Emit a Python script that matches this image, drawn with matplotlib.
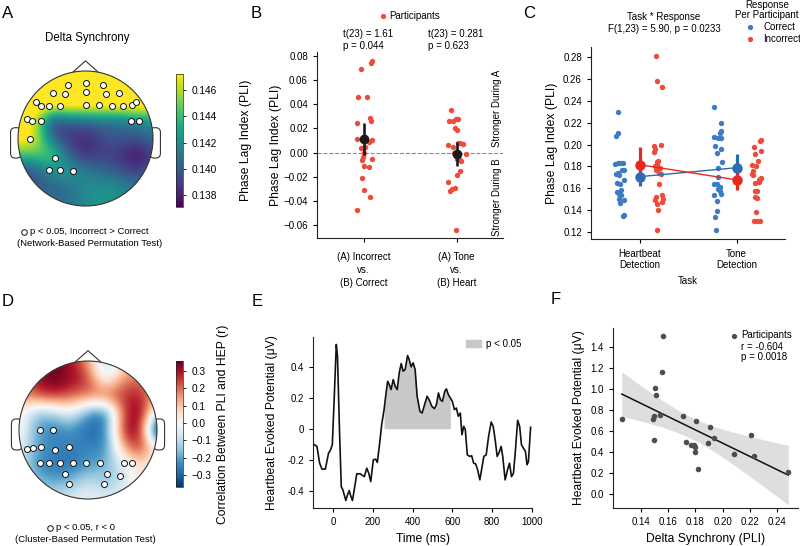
import numpy as np
import matplotlib
matplotlib.use('Agg')
import matplotlib.pyplot as plt
from matplotlib.patches import Circle, Polygon, FancyBboxPatch, Patch
from matplotlib.lines import Line2D

# ---- data ----
# topomap A: Delta synchrony (PLI), 9x9 grid over the head, rows y=1..-1, cols x=-1..1
a_grid = np.array([
    [0.148, 0.148, 0.148, 0.148, 0.148, 0.148, 0.148, 0.148, 0.148],
    [0.148, 0.148, 0.148, 0.148, 0.148, 0.148, 0.148, 0.148, 0.148],
    [0.149, 0.149, 0.149, 0.149, 0.149, 0.149, 0.149, 0.149, 0.149],
    [0.148, 0.147, 0.1382, 0.1400, 0.1400, 0.1405, 0.1405, 0.1415, 0.1420],
    [0.148, 0.1475, 0.1400, 0.1385, 0.1380, 0.1395, 0.1400, 0.1395, 0.1410],
    [0.1445, 0.1445, 0.1455, 0.1400, 0.1382, 0.1390, 0.1385, 0.1370, 0.1390],
    [0.1385, 0.1395, 0.1420, 0.1430, 0.1415, 0.1405, 0.1400, 0.1388, 0.1400],
    [0.1400, 0.1400, 0.1400, 0.1405, 0.1420, 0.1425, 0.1420, 0.1415, 0.1410],
    [0.1410, 0.1415, 0.1410, 0.1410, 0.1420, 0.1425, 0.1420, 0.1410, 0.1410],
])
a_elec_x = [0, -0.254, 0.259, -0.483, -0.303, 0, 0.308, 0.493, -0.736, -0.662, -0.547, -0.383, 0,
            0.199, 0.393, 0.557, 0.682, 0.751, -0.871, -0.786, -0.662, 0.667, 0.796, -0.826, -0.453,
            -0.547, -0.383, -0.189]
a_elec_y = [0.826, 0.791, 0.791, 0.672, 0.657, 0.687, 0.657, 0.672, 0.542, 0.488, 0.483, 0.483, 0.493,
            0.493, 0.483, 0.483, 0.493, 0.542, 0.289, 0.259, 0.259, 0.259, 0.259, 0.0, -0.294,
            -0.468, -0.468, -0.478]
a_ticks = [0.138, 0.140, 0.142, 0.144, 0.146]

# topomap D: correlation between PLI and HEP
d_grid = np.array([
    [0.15, 0.28, 0.35, 0.30, 0.15, -0.15, 0.05, 0.12, 0.10],
    [0.20, 0.30, 0.38, 0.32, 0.26, -0.08, 0.15, 0.20, 0.12],
    [0.12, 0.24, 0.28, 0.22, 0.20, 0.24, 0.26, 0.30, 0.10],
    [0.05, -0.16, -0.14, -0.02, -0.22, -0.30, 0.22, 0.38, -0.10],
    [0.03, -0.20, -0.26, -0.22, -0.30, -0.28, 0.28, 0.36, -0.55],
    [0.00, -0.20, -0.24, -0.26, -0.24, -0.26, 0.12, 0.30, 0.02],
    [-0.08, -0.22, -0.28, -0.28, -0.22, -0.18, -0.06, 0.05, -0.02],
    [-0.08, -0.16, -0.20, -0.16, -0.08, -0.14, -0.10, 0.08, 0.00],
    [-0.05, -0.05, -0.08, -0.05, -0.03, -0.05, -0.05, 0.00, 0.00],
])
d_elec_x = [-0.70, -0.51, -0.88, -0.80, -0.68, -0.48, -0.27, -0.69, -0.57, -0.41, -0.22, -0.03, 0.17,
            0.52, 0.64, -0.33, 0.28, 0.46, -0.28, 0.23]
d_elec_y = [0.0, 0.0, -0.275, -0.256, -0.251, -0.29, -0.24, -0.473, -0.473, -0.473, -0.483, -0.483,
            -0.483, -0.473, -0.483, -0.643, -0.643, -0.662, -0.778, -0.778]
d_ticks = [-0.3, -0.2, -0.1, 0.0, 0.1, 0.2, 0.3]

# panel B: PLI differences per participant
b_labels = ['(A) Incorrect\nvs.\n(B) Correct', '(A) Tone\nvs.\n(B) Heart']
b1_jit = [-0.03, 0.08, 0.09, -0.06, 0.04, 0.07, 0.08, -0.07, -0.07, 0.06, 0.09, -0.03, 0.02, -0.02,
          -0.01, 0.09, 0.00, 0.06, -0.02, 0.00, 0.07, -0.07, 0.00, 0.01]
b1_val = [0.069, 0.074, 0.076, 0.046, 0.046, 0.029, 0.026, 0.0245, 0.011, 0.009, 0.010, 0.004, 0.005,
          -0.006, -0.004, -0.0055, -0.011, -0.012, -0.021, -0.031, -0.037, -0.048, 0.012, 0.0]
b2_jit = [-0.06, -0.08, -0.01, 0.02, -0.02, 0.00, -0.09, -0.04, 0.04, 0.07, 0.10, 0.05, 0.04, 0.04,
          0.00, -0.09, -0.02, -0.05, -0.07, -0.01, 0.02, -0.03, 0.01, -0.04]
b2_val = [0.035, 0.026, 0.028, 0.028, 0.020, 0.019, 0.0066, 0.0044, 0.008, 0.007, -0.001, -0.0066,
          -0.006, -0.015, -0.019, -0.024, -0.029, -0.030, -0.032, -0.064, 0.008, 0.0, -0.005, 0.026]
b_mean = [0.011, -0.001]
b_lo = [-0.0017, -0.011]
b_hi = [0.0245, 0.0085]

# panel C: PLI per task and response
c_tasks = ['Heartbeat\nDetection', 'Tone\nDetection']
c_hb_cor_jit = [-0.22, -0.22, -0.24, -0.25, -0.22, -0.20, -0.17, -0.22, -0.21, -0.16, -0.23, -0.20,
                -0.16, -0.23, -0.21, -0.19, -0.21, -0.16, -0.20, -0.17, -0.16, -0.24, -0.19, -0.18]
c_hb_cor = [0.230, 0.211, 0.208, 0.182, 0.183, 0.183, 0.183, 0.174, 0.172, 0.177, 0.165, 0.164, 0.167,
            0.156, 0.155, 0.154, 0.150, 0.149, 0.146, 0.134, 0.135, 0.173, 0.158, 0.177]
c_hb_inc_jit = [0.17, 0.18, 0.23, 0.15, 0.16, 0.15, 0.22, 0.18, 0.18, 0.16, 0.21, 0.20, 0.22, 0.20,
                0.23, 0.17, 0.16, 0.24, 0.23, 0.18, 0.19, 0.18, 0.17, 0.19]
c_hb_inc = [0.2815, 0.258, 0.2525, 0.199, 0.196, 0.193, 0.200, 0.184, 0.182, 0.180, 0.178, 0.174, 0.173,
            0.164, 0.154, 0.152, 0.149, 0.150, 0.147, 0.145, 0.140, 0.122, 0.177, 0.185]
c_tone_cor_jit = [-0.23, -0.16, -0.17, -0.23, -0.19, -0.16, -0.22, -0.16, -0.20, -0.15, -0.19, -0.19,
                  -0.23, -0.20, -0.17, -0.19, -0.17, -0.23, -0.16, -0.20, -0.20, -0.22, -0.21, -0.16]
c_tone_cor = [0.2347, 0.220, 0.211, 0.2065, 0.206, 0.206, 0.199, 0.196, 0.192, 0.184, 0.178, 0.170,
              0.1635, 0.164, 0.161, 0.159, 0.1575, 0.154, 0.1545, 0.148, 0.139, 0.1335, 0.1215, 0.212]
c_tone_inc_jit = [0.18, 0.25, 0.24, 0.19, 0.25, 0.22, 0.16, 0.16, 0.17, 0.20, 0.24, 0.23, 0.25, 0.19,
                  0.19, 0.21, 0.19, 0.21, 0.20, 0.18, 0.21, 0.24, 0.23, 0.17]
c_tone_inc = [0.1977, 0.204, 0.203, 0.191, 0.194, 0.185, 0.181, 0.173, 0.172, 0.180, 0.168, 0.166,
              0.169, 0.165, 0.1576, 0.1574, 0.152, 0.151, 0.138, 0.130, 0.130, 0.130, 0.167, 0.176]
c_cor_mean = [0.1705, 0.1787]
c_cor_lo = [0.162, 0.166]
c_cor_hi = [0.178, 0.191]
c_inc_mean = [0.1815, 0.1676]
c_inc_lo = [0.1645, 0.158]
c_inc_hi = [0.198, 0.1766]

# panel E: heartbeat evoked potential
e_time = [-93, -80, -67, -55, -38, -22, -13, -3, 7, 17, 23, 33, 42, 50, 65, 73, 82, 88, 98, 107, 120,
          137, 150, 158, 170, 180, 190, 203, 215, 223, 233, 245, 257, 267, 275, 283, 292, 303, 313, 323,
          333, 343, 353, 363, 375, 383, 393, 403, 413, 423, 437, 448, 458, 473, 483, 497, 510, 520, 530,
          540, 550, 562, 570, 580, 590, 600, 610, 620, 630, 640, 648, 657, 665, 675, 687, 697, 707, 717,
          727, 738, 748, 758, 770, 782, 795, 805, 815, 825, 837, 845, 853, 865, 877, 887, 897, 907, 917,
          928, 938, 947, 957, 967, 975, 982, 988, 993]
e_hep = [-0.103, -0.114, -0.22, -0.26, -0.26, -0.157, -0.14, -0.103, 0.209, 0.542, 0.467, -0.006,
         -0.372, -0.394, -0.462, -0.426, -0.398, -0.426, -0.462, -0.394, -0.29, -0.29, -0.301, -0.308,
         -0.254, -0.286, -0.34, -0.2, -0.196, -0.217, -0.114, 0.026, 0.123, 0.23, 0.305, 0.284, 0.252,
         0.316, 0.273, 0.252, 0.359, 0.419, 0.37, 0.381, 0.471, 0.445, 0.398, 0.424, 0.381, 0.209, 0.112,
         0.101, 0.144, 0.209, 0.187, 0.144, 0.129, 0.155, 0.23, 0.187, 0.176, 0.241, 0.256, 0.219, 0.198,
         0.176, 0.123, 0.133, 0.08, 0.101, -0.039, 0.015, -0.006, -0.168, -0.178, -0.174, -0.222, -0.226,
         -0.265, -0.329, -0.254, -0.178, -0.168, -0.049, 0.043, 0.015, -0.071, -0.178, -0.146, -0.114,
         -0.178, -0.329, -0.265, -0.222, -0.308, -0.286, -0.135, 0.054, 0.015, -0.103, -0.125, -0.146,
         -0.232, -0.211, -0.092, 0.009]
e_sig_start = 255
e_sig_end = 597
e_yticks = [-0.4, -0.2, 0.0, 0.2, 0.4]
e_yticklabels = ['-0.4', '-0.2', '0', '0.2', '0.4']

# panel F: delta synchrony vs HEP
f_pli = [0.1263, 0.1562, 0.1557, 0.1508, 0.1515, 0.1489, 0.1499, 0.1501, 0.1542, 0.1710, 0.1732, 0.1766,
         0.1788, 0.1796, 0.1796, 0.1803, 0.1822, 0.1895, 0.1907, 0.1936, 0.2085, 0.2207, 0.2226, 0.2479]
f_hep = [0.714, 1.511, 1.168, 1.010, 0.946, 0.714, 0.749, 0.517, 0.756, 0.749, 0.495, 0.473, 0.473,
         0.454, 0.403, 0.698, 0.241, 0.486, 0.638, 0.533, 0.384, 0.565, 0.368, 0.213]

# ---- style ----
plt.rcParams['font.family'] = ['Liberation Sans', 'DejaVu Sans']
plt.rcParams['font.size'] = 7
plt.rcParams['axes.linewidth'] = 0.8
plt.rcParams['axes.edgecolor'] = '#222222'
plt.rcParams['xtick.major.width'] = 0.8
plt.rcParams['ytick.major.width'] = 0.8
plt.rcParams['xtick.major.size'] = 3
plt.rcParams['ytick.major.size'] = 3
plt.rcParams['xtick.labelsize'] = 7
plt.rcParams['ytick.labelsize'] = 7

red = '#ef4b3b'
blue = '#3d7cc4'
red_m = '#e8281f'
blue_m = '#2a6bb3'
lab_fs = 8.7
dot_s = 15

W, H = 800, 546
fig = plt.figure(figsize=(W / 100, H / 100), dpi=100)


def px_axes(left, top, right, bottom):
    return fig.add_axes([left / W, 1 - bottom / H, (right - left) / W, (bottom - top) / H])


def ftext(x, y, s, **kw):
    fig.text(x / W, 1 - y / H, s, **kw)


def fmarker(x, y, **kw):
    fig.add_artist(Line2D([x / W], [1 - y / H], transform=fig.transFigure, linestyle='none', **kw))


def despine(ax):
    ax.spines['top'].set_visible(False)
    ax.spines['right'].set_visible(False)


def draw_head(cx, cy, r, grid, cmap, vmin, vmax, ex, ey):
    ax = px_axes(cx - 1.3 * r, cy - 1.3 * r, cx + 1.3 * r, cy + 1.3 * r)
    ax.set_xlim(-1.3, 1.3)
    ax.set_ylim(-1.3, 1.3)
    ax.axis('off')
    for s in (-1, 1):
        x0 = 0.95 if s > 0 else -1.11
        ear = FancyBboxPatch((x0, -0.29), 0.16, 0.45, boxstyle='round,pad=0,rounding_size=0.07',
                             fc='white', ec='#333333', lw=0.8, zorder=1)
        ax.add_patch(ear)
    nose = Polygon([(-0.19, 0.982), (0, 1.15), (0.19, 0.982)], closed=False, fill=False,
                   ec='#333333', lw=0.8, zorder=1)
    ax.add_patch(nose)
    im = ax.imshow(grid, cmap=cmap, vmin=vmin, vmax=vmax, extent=(-1.125, 1.125, -1.125, 1.125),
                   origin='upper', interpolation='bicubic', zorder=2)
    clip = Circle((0, 0), 1.0, transform=ax.transData)
    im.set_clip_path(clip)
    ax.add_patch(Circle((0, 0), 1.0, fill=False, ec='#333333', lw=0.8, zorder=3))
    ax.plot(ex, ey, 'o', ms=4.3, mfc='white', mec='#111111', mew=0.7, zorder=4)
    return im


# ---- A ----
imA = draw_head(85.5, 138.5, 67.5, a_grid, 'viridis', 0.13709, 0.14722, a_elec_x, a_elec_y)
caxA = px_axes(176, 74, 183, 207)
cbA = fig.colorbar(imA, cax=caxA, ticks=a_ticks)
cbA.ax.set_yticklabels(['%.3f' % t for t in a_ticks])
cbA.outline.set_linewidth(0.5)
cbA.ax.tick_params(length=2.5, width=0.6, labelsize=7.3)
cbA.set_label('Phase Lag Index (PLI)', fontsize=lab_fs, labelpad=17)
ftext(87.5, 38, 'Delta Synchrony', fontsize=8.3, ha='center', va='center')
fmarker(24, 232, marker='o', ms=4.0, mfc='white', mec='#111111', mew=0.7)
ftext(30, 232, 'p < 0.05, Incorrect > Correct', fontsize=6.8, ha='left', va='center')
ftext(89.5, 244, '(Network-Based Permutation Test)', fontsize=6.8, ha='center', va='center')

# ---- B ----
axB = px_axes(317, 52, 503, 238)
axB.axhline(0, color='#8c8c8c', ls='--', lw=0.8, zorder=0)
axB.scatter(np.array(b1_jit) + 0, b1_val, s=dot_s, color=red, lw=0, zorder=2)
axB.scatter(np.array(b2_jit) + 1, b2_val, s=dot_s, color=red, lw=0, zorder=2)
b_err = [np.array(b_mean) - np.array(b_lo), np.array(b_hi) - np.array(b_mean)]
axB.errorbar([0, 1], b_mean, yerr=b_err, fmt='o', color='#1a1a1a', ms=6, elinewidth=1.9,
             capsize=0, zorder=3)
axB.set_xlim(-0.5, 1.5)
axB.set_ylim(-0.0708, 0.0833)
axB.set_yticks([-0.06, -0.04, -0.02, 0.0, 0.02, 0.04, 0.06, 0.08])
axB.set_xticks([0, 1])
axB.set_xticklabels(b_labels, linespacing=1.4)
axB.tick_params(axis='x', pad=7)
axB.set_ylabel('Phase Lag Index (PLI)', fontsize=lab_fs, labelpad=1)
despine(axB)
axB.text(0.968, 0.697, 'Stronger During A', transform=axB.transAxes, rotation=90,
         ha='center', va='center', fontsize=7)
axB.text(0.968, 0.222, 'Stronger During B', transform=axB.transAxes, rotation=90,
         ha='center', va='center', fontsize=7)
fmarker(383, 15.7, marker='o', ms=3.8, color=red, mew=0)
ftext(389, 15.7, 'Participants', fontsize=7, ha='left', va='center')
ftext(343, 34.3, 't(23) = 1.61', fontsize=7, ha='left', va='center')
ftext(343, 45.7, 'p = 0.044', fontsize=7, ha='left', va='center')
ftext(428, 34.3, 't(23) = 0.281', fontsize=7, ha='left', va='center')
ftext(428, 45.7, 'p = 0.623', fontsize=7, ha='left', va='center')

# ---- C ----
axC = px_axes(591, 47, 785, 239)
axC.scatter(np.array(c_hb_cor_jit) + 0, c_hb_cor, s=dot_s, color=blue, lw=0, zorder=2)
axC.scatter(np.array(c_hb_inc_jit) + 0, c_hb_inc, s=dot_s, color=red, lw=0, zorder=2)
axC.scatter(np.array(c_tone_cor_jit) + 1, c_tone_cor, s=dot_s, color=blue, lw=0, zorder=2)
axC.scatter(np.array(c_tone_inc_jit) + 1, c_tone_inc, s=dot_s, color=red, lw=0, zorder=2)
for mean, lo, hi, col in [(c_cor_mean, c_cor_lo, c_cor_hi, blue_m), (c_inc_mean, c_inc_lo, c_inc_hi, red_m)]:
    axC.plot([0, 1], mean, color=col, lw=1.0, zorder=3)
    err = [np.array(mean) - np.array(lo), np.array(hi) - np.array(mean)]
    axC.errorbar([0, 1], mean, yerr=err, fmt='o', color=col, ms=6.5, elinewidth=2.3, capsize=0, zorder=4)
axC.set_xlim(-0.5, 1.5)
axC.set_ylim(0.1133, 0.2895)
axC.set_yticks([0.12, 0.14, 0.16, 0.18, 0.20, 0.22, 0.24, 0.26, 0.28])
axC.set_xticks([0, 1])
axC.set_xticklabels(c_tasks, linespacing=1.2)
axC.tick_params(axis='x', pad=4)
axC.set_ylabel('Phase Lag Index (PLI)', fontsize=lab_fs, labelpad=4)
axC.set_xlabel('Task', fontsize=7, labelpad=4)
despine(axC)
ftext(664, 16.7, 'Task * Response', fontsize=7, ha='center', va='center')
ftext(664, 29, 'F(1,23) = 5.90, p = 0.0233', fontsize=7, ha='center', va='center')
ftext(767, 5, 'Response', fontsize=7, ha='center', va='center')
ftext(767, 15.5, 'Per Participant', fontsize=7, ha='center', va='center')
fmarker(750, 27.3, marker='o', ms=3.8, color=blue, mew=0)
ftext(763, 27.3, 'Correct', fontsize=7, ha='left', va='center')
fmarker(750, 39, marker='o', ms=3.8, color=red, mew=0)
ftext(763, 39, 'Incorrect', fontsize=7, ha='left', va='center')

# ---- D ----
imD = draw_head(88, 430, 69, d_grid, 'RdBu_r', -0.37, 0.358, d_elec_x, d_elec_y)
caxD = px_axes(176, 361, 183, 487)
cbD = fig.colorbar(imD, cax=caxD, ticks=d_ticks)
cbD.outline.set_linewidth(0.5)
cbD.ax.tick_params(length=2.5, width=0.6, labelsize=7.3)
cbD.set_label('Correlation Between PLI and HEP (r)', fontsize=lab_fs, labelpad=4)
fmarker(50, 528, marker='o', ms=4.0, mfc='white', mec='#111111', mew=0.7)
ftext(56, 528, 'p < 0.05, r < 0', fontsize=6.8, ha='left', va='center')
ftext(85, 539, '(Cluster-Based Permutation Test)', fontsize=6.8, ha='center', va='center')

# ---- E ----
axE = px_axes(313, 337, 532, 508)
t = np.array(e_time)
v = np.array(e_hep)
sig = (t >= e_sig_start) & (t <= e_sig_end)
axE.fill_between(t, v, 0, where=sig, color='#c8c8c8', lw=0, zorder=1)
axE.plot(t, v, color='#111111', lw=1.2, zorder=2)
axE.set_xlim(-100, 1000)
axE.set_ylim(-0.51, 0.59)
axE.set_xticks([0, 200, 400, 600, 800, 1000])
axE.set_yticks(e_yticks)
axE.set_yticklabels(e_yticklabels)
axE.set_xlabel('Time (ms)', fontsize=lab_fs, labelpad=4)
axE.set_ylabel('Heartbeat Evoked Potential (\u03bcV)', fontsize=lab_fs, labelpad=7)
despine(axE)
axE.legend(handles=[Patch(color='#c8c8c8', label='p < 0.05')], loc='upper right', frameon=False,
           fontsize=7, handlelength=1.6, handleheight=0.8, handletextpad=0.5,
           bbox_to_anchor=(0.993, 1.04))

# ---- F ----
axF = px_axes(613, 328, 798, 508)
x = np.array(f_pli)
y = np.array(f_hep)
slope, icpt = np.polyfit(x, y, 1)
xs = np.linspace(x.min(), x.max(), 100)
n = len(x)
resid = y - (slope * x + icpt)
s_res = np.sqrt(np.sum(resid ** 2) / (n - 2))
se = s_res * np.sqrt(1 / n + (xs - x.mean()) ** 2 / np.sum((x - x.mean()) ** 2))
tcrit = 2.074  # df = 22
yfit = slope * xs + icpt
axF.fill_between(xs, yfit - tcrit * se, yfit + tcrit * se, color='#dedede', lw=0, zorder=1)
axF.plot(xs, yfit, color='#111111', lw=1.1, zorder=2)
axF.scatter(x, y, s=16, color='#4d4d4d', lw=0, zorder=3)
axF.set_xlim(0.1199, 0.255)
axF.set_ylim(-0.13, 1.584)
axF.set_xticks([0.14, 0.16, 0.18, 0.20, 0.22, 0.24])
axF.set_yticks([0.0, 0.2, 0.4, 0.6, 0.8, 1.0, 1.2, 1.4])
axF.set_xlabel('Delta Synchrony (PLI)', fontsize=lab_fs, labelpad=4)
axF.set_ylabel('Heartbeat Evoked Potential (\u03bcV)', fontsize=lab_fs, labelpad=4)
despine(axF)
fmarker(734, 335.5, marker='o', ms=3.8, color='#4d4d4d', mew=0)
ftext(741, 335.5, 'Participants', fontsize=7, ha='left', va='center')
ftext(741, 346.7, 'r = -0.604', fontsize=7, ha='left', va='center')
ftext(741, 357.3, 'p = 0.0018', fontsize=7, ha='left', va='center')

# ---- panel letters ----
for lx, ly, lt in [(7.5, 14, 'A'), (256, 13, 'B'), (529, 13, 'C'),
                   (7.5, 301, 'D'), (257, 301, 'E'), (556, 299, 'F')]:
    ftext(lx, ly, lt, fontsize=12, ha='center', va='center')

fig.savefig('out.png', dpi=100)
